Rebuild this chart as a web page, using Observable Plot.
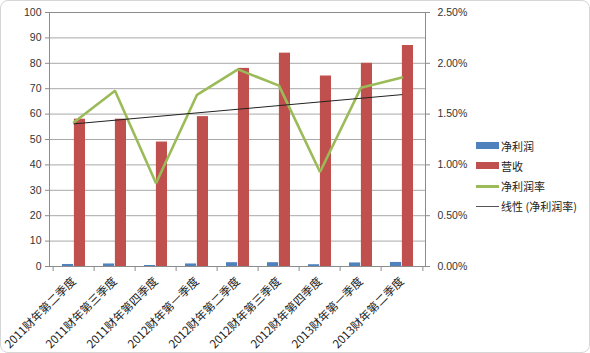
<!DOCTYPE html>
<html>
<head>
<meta charset="utf-8">
<script src="https://cdn.jsdelivr.net/npm/d3@7"></script>
<script src="https://cdn.jsdelivr.net/npm/@observablehq/plot@0.6"></script>
<style>
  html, body { margin: 0; padding: 0; background: #fff; }
  #wrap { position: relative; width: 590px; height: 353px; overflow: hidden; }
  #frame { position: absolute; left: 0; top: 0; width: 588px; height: 351px; border: 1px solid #d6d6d6; border-radius: 8px; pointer-events: none; }
  #chart { position: absolute; left: 0; top: 0; }
  .legend { position: absolute; left: 476px; top: 136px; font-family: "Noto Sans CJK SC", "Liberation Sans", sans-serif; font-size: 11px; color: #222; }
  .legend .row { position: relative; height: 20px; line-height: 20px; white-space: nowrap; }
  .legend .sw { position: absolute; left: 0; width: 23px; }
  .legend .lbl { position: absolute; left: 25px; top: 0; }
</style>
</head>
<body>
<div id="wrap">
  <div id="chart"></div>
  <div class="legend" id="legend"></div>
  <div id="frame"></div>
</div>
<script>
const categories = [
  "2011财年第二季度", "2011财年第三季度", "2011财年第四季度",
  "2012财年第一季度", "2012财年第二季度", "2012财年第三季度",
  "2012财年第四季度", "2013财年第一季度", "2013财年第二季度"
];
const netProfit = [0.8, 1.0, 0.4, 1.0, 1.5, 1.5, 0.7, 1.4, 1.6];
const revenue = [58, 58, 49, 59, 78, 84, 75, 80, 87];
const marginRate = [1.42, 1.73, 0.82, 1.69, 1.94, 1.78, 0.93, 1.76, 1.86]; // percent
const leftTicks = [0, 10, 20, 30, 40, 50, 60, 70, 80, 90, 100];
const rightTicks = [0, 0.5, 1.0, 1.5, 2.0, 2.5]; // percent
const seriesNames = ["净利润", "营收", "净利润率", "线性 (净利润率)"];
const colors = { profit: "#4f81bd", revenue: "#c0504d", rate: "#9bbb59", trend: "#222222" };

// right axis maps 0–2.5% onto the left 0–100 scale
const rightMax = 2.5, leftMax = 100, k = leftMax / rightMax;

// least-squares trend of the margin rate
const mx = d3.mean(marginRate, (_, i) => i), my = d3.mean(marginRate);
const slope = d3.sum(marginRate, (v, i) => (i - mx) * (v - my)) / d3.sum(marginRate, (_, i) => (i - mx) ** 2);
const intercept = my - slope * mx;

const rows = categories.map((c, i) => ({
  cat: c, profit: netProfit[i], revenue: revenue[i],
  rate: marginRate[i] * k, trend: (intercept + slope * i) * k
}));

const W = 590, H = 353, mL = 49, mR = 165, mT = 12, mB = 87;
const bw = (W - mL - mR) / categories.length;
const axisColor = "#8c8c8c";
const numFont = "'Liberation Sans', 'Noto Sans CJK SC', sans-serif";

const chart = Plot.plot({
  width: W, height: H,
  marginLeft: mL, marginRight: mR, marginTop: mT, marginBottom: mB,
  style: { fontFamily: numFont, fontSize: "10.5px", color: "#333", background: "transparent" },
  x: { domain: categories, padding: 0, axis: null },
  y: { domain: [0, leftMax], axis: null },
  marks: [
    Plot.gridY(leftTicks, { stroke: "#a8a8a8", strokeOpacity: 1 }),
    Plot.frame({ stroke: axisColor }),
    Plot.axisY(leftTicks, { anchor: "left", tickSize: 4, tickPadding: 4, stroke: axisColor, label: null, fill: "#333" }),
    Plot.axisY(rightTicks.map(d => d * k), {
      anchor: "right", tickSize: 4, tickPadding: 8, stroke: axisColor, label: null, fill: "#333",
      tickFormat: d => (d / k).toFixed(2) + "%"
    }),
    Plot.ruleX(categories, { x: d => d, y1: 0, y2: 0, insetBottom: -5, dx: -bw / 2, stroke: axisColor }),
    Plot.ruleX(categories.slice(-1), { x: d => d, y1: 0, y2: 0, insetBottom: -5, dx: bw / 2, stroke: axisColor }),
    Plot.axisX({
      tickSize: 0, tickRotate: -45, tickPadding: 13, label: null,
      fontFamily: "'Noto Sans CJK SC', sans-serif", fontSize: 11.5, fill: "#222"
    }),
    Plot.barY(rows, { x: "cat", y: "profit", fill: colors.profit, insetLeft: 9, insetRight: bw / 2 }),
    Plot.barY(rows, { x: "cat", y: "revenue", fill: colors.revenue, insetLeft: bw / 2, insetRight: 9 }),
    Plot.line(rows, { x: "cat", y: "rate", stroke: colors.rate, strokeWidth: 2.6, strokeLinejoin: "miter" }),
    Plot.line(rows, { x: "cat", y: "trend", stroke: colors.trend, strokeWidth: 1 })
  ]
});
document.getElementById("chart").appendChild(chart);

// legend
const legend = document.getElementById("legend");
const swatches = [
  { type: "bar", color: colors.profit },
  { type: "bar", color: colors.revenue },
  { type: "line", color: colors.rate, w: 3 },
  { type: "line", color: "#555", w: 1 }
];
seriesNames.forEach((name, i) => {
  const row = document.createElement("div");
  row.className = "row";
  const sw = document.createElement("div");
  sw.className = "sw";
  const s = swatches[i];
  if (s.type === "bar") { sw.style.height = "7px"; sw.style.top = "6px"; sw.style.background = s.color; }
  else { sw.style.height = s.w + "px"; sw.style.top = (10 - s.w / 2) + "px"; sw.style.background = s.color; }
  const lbl = document.createElement("span");
  lbl.className = "lbl";
  lbl.textContent = name;
  row.appendChild(sw); row.appendChild(lbl);
  legend.appendChild(row);
});
</script>
</body>
</html>
